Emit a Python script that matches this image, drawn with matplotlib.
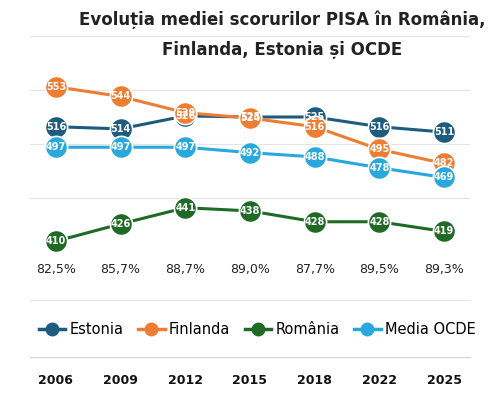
import matplotlib.pyplot as plt
from matplotlib.lines import Line2D
import matplotlib.transforms as mtransforms

years = ["2006", "2009", "2012", "2015", "2018", "2022", "2025"]
estonia = [516, 514, 526, 525, 525, 516, 511]
finland = [553, 544, 529, 524, 516, 495, 482]
romania = [410, 426, 441, 438, 428, 428, 419]
oecd = [497, 497, 497, 492, 488, 478, 469]
percent = ["82,5%", "85,7%", "88,7%", "89,0%", "87,7%", "89,5%", "89,3%"]

series = [
    ("Estonia", estonia, "#1d5c7e"),
    ("Finlanda", finland, "#ed7d31"),
    ("România", romania, "#1f6b25"),
    ("Media OCDE", oecd, "#29a8de"),
]

W, H = 495, 400
fig = plt.figure(figsize=(W / 100, H / 100), dpi=100)
# data area: px x 30..470, y 36..252 from top
ax = fig.add_axes([30 / W, 1 - 252 / H, 440 / W, 216 / H])
x = list(range(len(years)))
ax.set_xlim(-0.4, len(years) - 0.6)
ax.set_ylim(400, 600)
for g in [450, 500, 550, 600]:
    ax.axhline(g, color="#e3e3e3", lw=0.8, zorder=0)
for s in ax.spines.values():
    s.set_visible(False)
ax.set_xticks([])
ax.set_yticks([])

for name, vals, col in series:
    ax.plot(x, vals, color=col, lw=2.2, marker="o", markersize=16,
            markerfacecolor=col, markeredgecolor="white", markeredgewidth=1.2, zorder=3)
    for xi, v in zip(x, vals):
        ax.text(xi, v, str(v), color="white", fontsize=7, fontweight="bold",
                ha="center", va="center", zorder=4)

trans = mtransforms.blended_transform_factory(ax.transData, ax.transAxes)
for xi, p in zip(x, percent):
    ax.text(xi, -18 / 216, p, transform=trans, ha="center", va="center",
            fontsize=9, color="#222222")
    ax.text(xi, -128 / 216, years[xi], transform=trans, ha="center", va="center",
            fontsize=9, fontweight="bold", color="#111111")

fig.add_artist(Line2D([30 / W, 470 / W], [1 - 357 / H] * 2, color="#d0d0d0", lw=0.8))
fig.add_artist(Line2D([30 / W, 470 / W], [1 - 300 / H] * 2, color="#e3e3e3", lw=0.8))

handles = [Line2D([0], [0], color=c, lw=2.5, marker="o", markersize=9, label=n)
           for n, _, c in series]
fig.legend(handles=handles, loc="center", bbox_to_anchor=(0.52, 1 - 330 / H), ncol=4,
           frameon=False, fontsize=10.5, handlelength=1.8, columnspacing=1.0,
           handletextpad=0.3)

fig.text(282 / W, 1 - 20 / H, "Evoluția mediei scorurilor PISA în România,",
         ha="center", va="center", fontsize=12, fontweight="bold", color="#222222")
fig.text(282 / W, 1 - 50 / H, "Finlanda, Estonia și OCDE",
         ha="center", va="center", fontsize=12, fontweight="bold", color="#222222")

fig.savefig("out.png", dpi=100)
